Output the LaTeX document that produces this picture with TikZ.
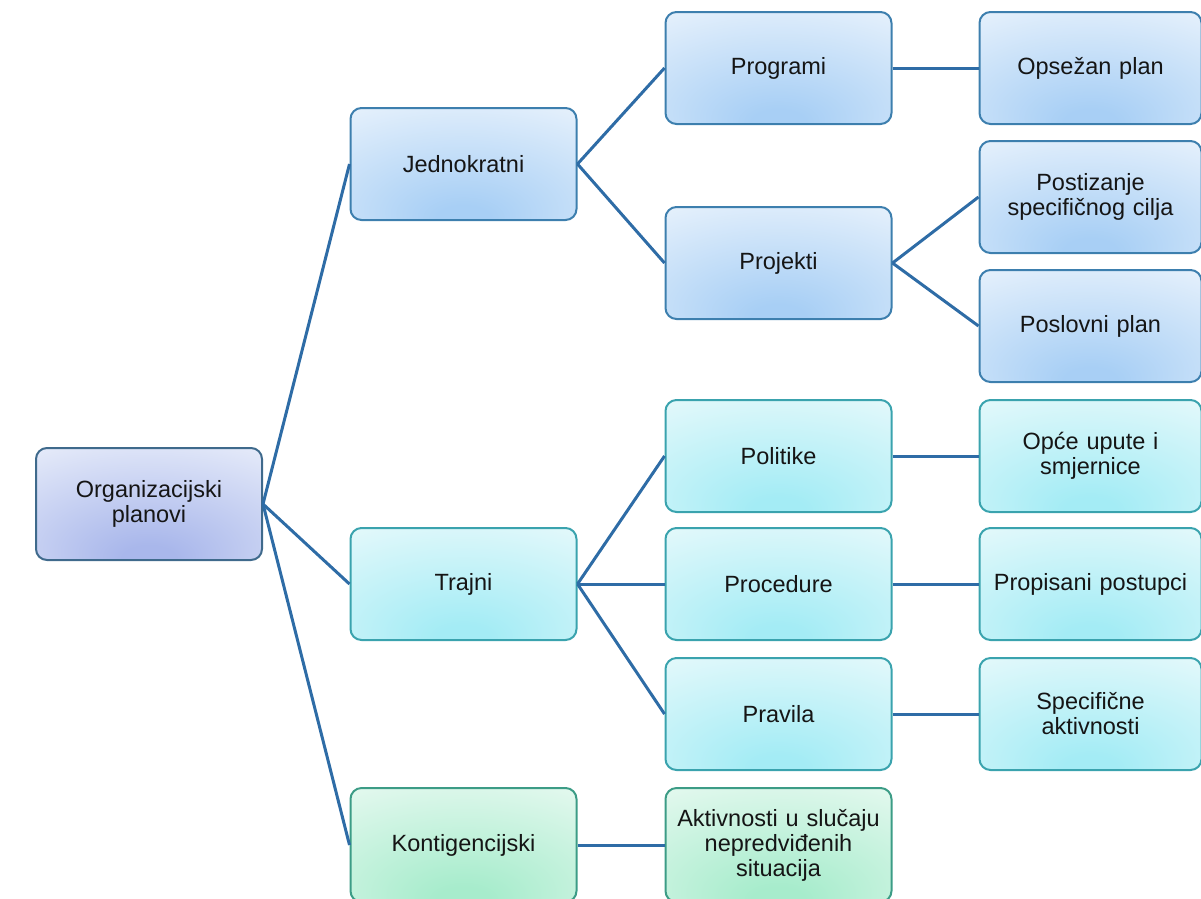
\documentclass[tikz,border=0pt]{standalone}
\usepackage{fontspec}
\setmainfont{Liberation Sans}
\definecolor{blueIn}{HTML}{A8CFF5}
\definecolor{blueOut}{HTML}{E8F2FC}
\definecolor{blueBd}{HTML}{3D7FAE}
\definecolor{lavIn}{HTML}{A9B7EB}
\definecolor{lavOut}{HTML}{E8EDFA}
\definecolor{lavBd}{HTML}{3F6A8C}
\definecolor{cyanIn}{HTML}{A4ECF5}
\definecolor{cyanOut}{HTML}{E6F9FB}
\definecolor{cyanBd}{HTML}{3AA3AE}
\definecolor{greenIn}{HTML}{A7ECCC}
\definecolor{greenOut}{HTML}{E6F9F0}
\definecolor{greenBd}{HTML}{3C9C86}
\definecolor{linkC}{HTML}{2E6CA6}
\definecolor{txtC}{HTML}{151515}
\pgfdeclareradialshading{blueglow}{\pgfpoint{0bp}{-26bp}}{color(0bp)=(blueIn); color(6bp)=(blueIn); color(48bp)=(blueOut); color(100bp)=(blueOut)}
\pgfdeclareradialshading{lavglow}{\pgfpoint{0bp}{-26bp}}{color(0bp)=(lavIn); color(6bp)=(lavIn); color(48bp)=(lavOut); color(100bp)=(lavOut)}
\pgfdeclareradialshading{cyanglow}{\pgfpoint{0bp}{-26bp}}{color(0bp)=(cyanIn); color(6bp)=(cyanIn); color(48bp)=(cyanOut); color(100bp)=(cyanOut)}
\pgfdeclareradialshading{greenglow}{\pgfpoint{0bp}{-26bp}}{color(0bp)=(greenIn); color(6bp)=(greenIn); color(48bp)=(greenOut); color(100bp)=(greenOut)}
\tikzset{
  box/.style={rectangle, rounded corners=11pt, line width=2pt, align=center,
    inner sep=2pt, text=txtC,
    font=\fontsize{23.5}{25}\selectfont, minimum height=112pt},
  midbox/.style={box, minimum width=226pt, text width=222pt},
  endbox/.style={box, minimum width=220pt, text width=218pt},
  bluebox/.style={draw=blueBd, shade, shading=blueglow},
  lavbox/.style={draw=lavBd, shade, shading=lavglow},
  cyanbox/.style={draw=cyanBd, shade, shading=cyanglow},
  greenbox/.style={draw=greenBd, shade, shading=greenglow},
  link/.style={draw=linkC, line width=3pt}
}
\begin{document}
\begin{tikzpicture}[x=1pt,y=-1pt]
\useasboundingbox (0,0) rectangle (1201,898);
% column 1
\node[midbox,lavbox] (root) at (149,504) {Organizacijski\\planovi};
% column 2
\node[midbox,bluebox] (jed) at (463.5,164) {Jednokratni};
\node[midbox,cyanbox] (tra) at (463.5,584) {Trajni};
\node[midbox,greenbox,minimum height=114pt] (kon) at (463.5,845) {Kontigencijski};
% column 3
\node[midbox,bluebox] (prog) at (778.5,68) {Programi};
\node[midbox,bluebox] (proj) at (778.5,263) {Projekti};
\node[midbox,cyanbox] (pol) at (778.5,456) {Politike};
\node[midbox,cyanbox] (proc) at (778.5,584) {Procedure};
\node[midbox,cyanbox] (prav) at (778.5,714) {Pravila};
\node[midbox,greenbox,minimum height=114pt] (akt) at (778.5,845) {Aktivnosti u slučaju\\nepredviđenih\\situacija};
% column 4
\node[endbox,bluebox] (ops) at (1090.5,68) {Opsežan plan};
\node[endbox,bluebox] (post) at (1090.5,197) {Postizanje\\specifičnog cilja};
\node[endbox,bluebox] (posl) at (1090.5,326) {Poslovni plan};
\node[endbox,cyanbox] (opce) at (1090.5,456) {Opće upute i\\smjernice};
\node[endbox,cyanbox] (prop) at (1090.5,584) {Propisani postupci};
\node[endbox,cyanbox] (spec) at (1090.5,714) {Specifične\\aktivnosti};
% connectors
\draw[link] (root.east) -- (jed.west);
\draw[link] (root.east) -- (tra.west);
\draw[link] (root.east) -- (kon.west);
\draw[link] (jed.east) -- (prog.west);
\draw[link] (jed.east) -- (proj.west);
\draw[link] (tra.east) -- (pol.west);
\draw[link] (tra.east) -- (proc.west);
\draw[link] (tra.east) -- (prav.west);
\draw[link] (kon.east) -- (akt.west);
\draw[link] (prog.east) -- (ops.west);
\draw[link] (proj.east) -- (post.west);
\draw[link] (proj.east) -- (posl.west);
\draw[link] (pol.east) -- (opce.west);
\draw[link] (proc.east) -- (prop.west);
\draw[link] (prav.east) -- (spec.west);
\end{tikzpicture}
\end{document}
